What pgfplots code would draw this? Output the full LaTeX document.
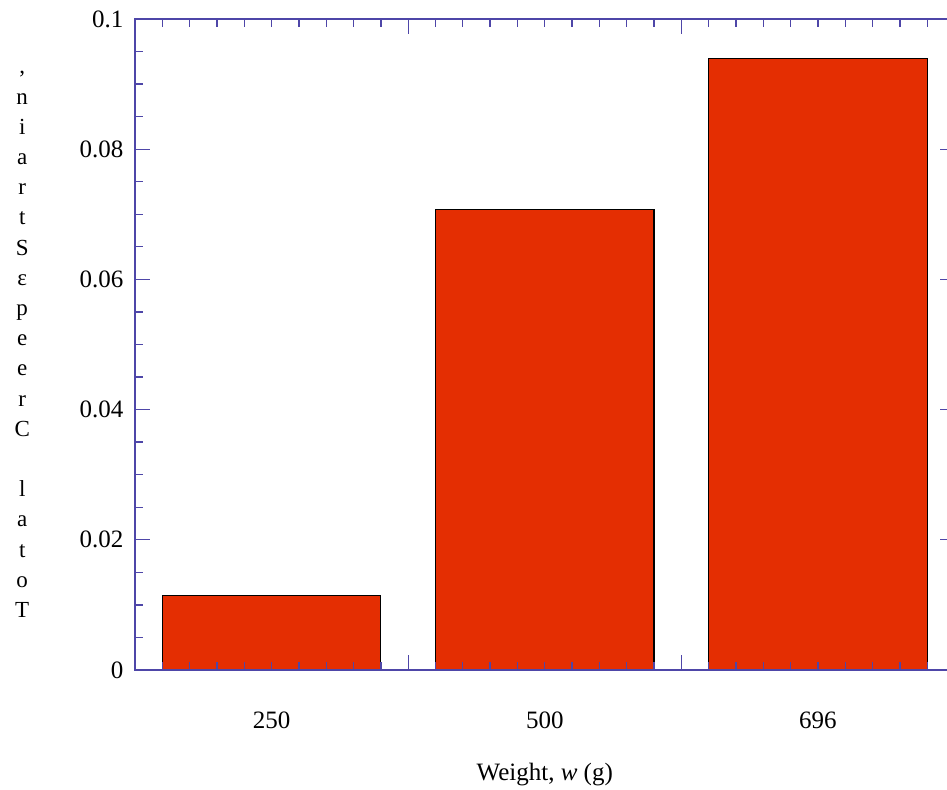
\documentclass[border=0pt]{standalone}
\usepackage{pgfplots}
\pgfplotsset{compat=1.18}
\usepackage{fontspec}
\setmainfont{Liberation Serif}

\definecolor{axblue}{RGB}{78,70,168}
\definecolor{barred}{RGB}{228,46,2}

\begin{document}
\begin{tikzpicture}
\begin{axis}[
    name=ax,
    scale only axis,
    width=819.5bp, height=651bp,
    xmin=0.5, xmax=3.5,
    ymin=0, ymax=0.1,
    axis on top,
    axis line style={axblue, line width=1.3bp},
    tick style={axblue, line width=1.3bp},
    minor tick style={axblue, line width=1.3bp},
    tick align=inside,
    major tick length=15bp,
    minor tick length=8bp,
    xtick={0.5,1.5,2.5,3.5},
    xticklabels={},
    minor x tick num=9,
    extra x ticks={1,2,3},
    extra x tick labels={250,500,696},
    extra x tick style={major tick length=0pt, xticklabel style={yshift=-38bp}},
    ytick={0,0.02,0.04,0.06,0.08,0.1},
    minor y tick num=3,
    y tick label style={/pgf/number format/fixed, /pgf/number format/precision=2, xshift=-8bp},
    scaled y ticks=false,
    /pgf/number format/assume math mode=true,
    ticklabel style={font=\fontsize{25bp}{30bp}\selectfont},
    xlabel={Weight, \textit{w} (g)},
    xlabel style={font=\fontsize{25bp}{30bp}\selectfont, yshift=-28bp},
    ylabel={,\\n\\i\\a\\r\\t\\S\\ε\\p\\e\\e\\r\\C\\ \\l\\a\\t\\o\\T},
    ylabel style={rotate=-90, align=center, font=\fontsize{23bp}{30.2bp}\selectfont, xshift=-43bp},
]
\addplot[ybar, bar width=0.8, fill=barred, draw=black, line width=1.2bp]
    coordinates {(1,0.0114) (2,0.0707) (3,0.0939)};
\end{axis}
\pgfresetboundingbox
\path[use as bounding box] (ax.south west) ++(-135bp,-120bp) rectangle ++(947bp,790bp);
\end{tikzpicture}
\end{document}
